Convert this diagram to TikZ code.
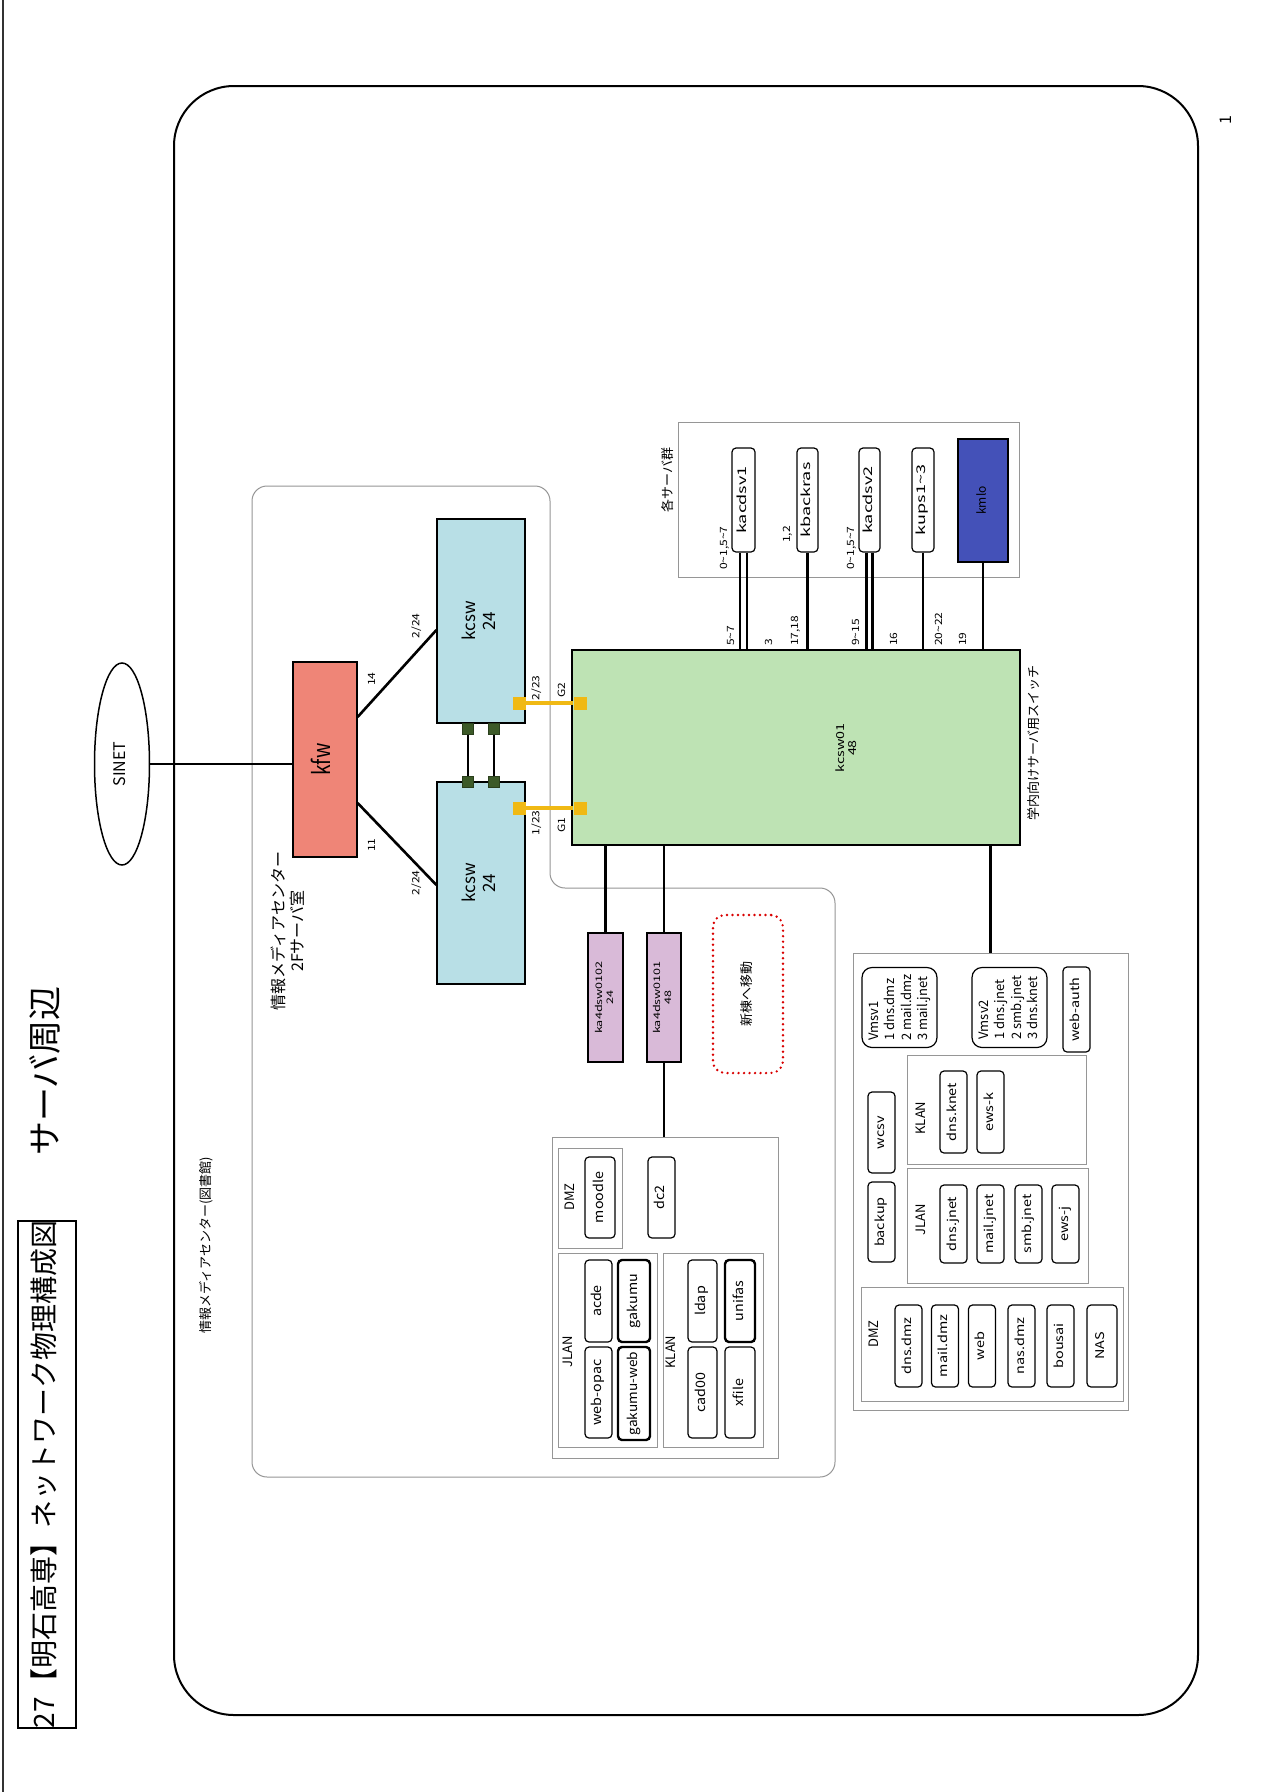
\documentclass[tikz,border=0pt]{standalone}
\usepackage{fontspec}
\setmainfont{Noto Sans CJK JP}
\usepackage{graphicx}
\usetikzlibrary{shapes.geometric,calc}
\definecolor{kfwred}{RGB}{239,133,119}
\definecolor{kcswcyan}{RGB}{184,223,230}
\definecolor{swgreen}{RGB}{190,227,180}
\definecolor{lav}{RGB}{217,186,216}
\definecolor{srvblue}{RGB}{68,81,184}
\definecolor{ygold}{RGB}{240,185,20}
\definecolor{olivesq}{RGB}{60,90,40}
\definecolor{grpgray}{RGB}{150,150,150}
\newcommand\fsz[2]{\fontsize{#1}{#2}\selectfont}
\newcommand\rt[2][1]{\rotatebox{90}{\scalebox{#1}[1]{\begin{tabular}{@{}c@{}}#2\end{tabular}}}}
\newcommand\rtl[2][1]{\rotatebox{90}{\scalebox{#1}[1]{\begin{tabular}{@{}l@{}}#2\end{tabular}}}}
\newcommand\tl{\textasciitilde}
\tikzset{
  sz/.style n args={2}{minimum width=#1, minimum height=#2},
  box/.style={draw, line width=1.2pt, inner sep=0pt},
  srv/.style={box, rounded corners=4pt, fill=white},
  thk/.style={srv, line width=2.4pt},
  grp/.style={draw=grpgray, line width=1pt, inner sep=0pt},
  link/.style={line width=2.6pt},
  port/.style={inner sep=0pt, font=\fsz{10}{11}},
  sq/.style={fill=olivesq, draw=olivesq!70!black, minimum size=11pt, inner sep=0pt},
  ysq/.style={fill=ygold, minimum size=13pt, inner sep=0pt},
  yl/.style={draw=ygold, line width=4pt},
  bx/.style={srv, font=\fsz{12}{13}},
  jx/.style={srv, font=\fsz{13}{14}},
}
\begin{document}
\begin{tikzpicture}[x=1pt,y=-1pt]
\useasboundingbox (0,0) rectangle (1278,1792);
\fill[white] (0,0) rectangle (1278,1792);
\draw[line width=1.2pt, black!80] (3,0) -- (3,1792);
% title
\node[draw, line width=1.5pt, sz={58pt}{503pt}, inner sep=0pt, font=\fsz{28}{30}] (title) at (47,1474.5) {\rt{27【明石高専】ネットワーク物理構成図}};
\node[font=\fsz{34}{36}] (sub) at (49,1071) {\rt{サーバ周辺}};
\node[font=\fsz{16}{18}] (pg) at (1228,120) {\rt{1}};
% outer frame
\draw[line width=2pt, rounded corners=60pt] (174,86) rectangle (1198,1715);
% building outline
\draw[grp, rounded corners=15pt] (252,486) -- (550,486) -- (550,888) -- (835,888) -- (835,1477) -- (252,1477) -- cycle;
\node[font=\fsz{16}{19}] (lbl2f) at (290,931) {\rt{情報メディアセンター\\2Fサーバ室}};
\node[font=\fsz{13}{15}] (lbllib) at (207,1245) {\rt{情報メディアセンター(図書館)}};
% SINET, kfw
\node[draw, ellipse, line width=1.5pt, sz={55pt}{202pt}, inner sep=0pt, font=\fsz{16}{18}] (sinet) at (122,764) {\rt{SINET}};
\node[box, fill=kfwred, sz={64pt}{195pt}, font=\fsz{24}{26}] (kfw) at (325,759.5) {\rt[0.8]{kfw}};
\draw[link] (sinet.east) -- (sinet.east -| kfw.west);
% kcsw
\node[box, fill=kcswcyan, sz={88pt}{204pt}, font=\fsz{17}{20}] (kcswA) at (481,621) {\rt{kcsw\\24}};
\node[box, fill=kcswcyan, sz={88pt}{202pt}, font=\fsz{17}{20}] (kcswB) at (481,883) {\rt{kcsw\\24}};
\draw[link] ($(kfw.east)+(0,-42.5)$) -- ($(kcswA.west)+(0,9)$);
\draw[link] ($(kfw.east)+(0,43.5)$) -- ($(kcswB.west)+(0,2)$);
\node[port] (p14) at (373,679) {\rt[1.2]{14}};
\node[port] (p11) at (373,845) {\rt[1.2]{11}};
\node[port] (p224a) at (417,626) {\rt[1.2]{2/24}};
\node[port] (p224b) at (417,883) {\rt[1.2]{2/24}};
% stack links
\node[sq] (gA1) at (468,729) {};
\node[sq] (gA2) at (494,729) {};
\node[sq] (gB1) at (468,782) {};
\node[sq] (gB2) at (494,782) {};
\draw[line width=2.6pt] (gA1) -- (gB1);
\draw[line width=2.6pt] (gA2) -- (gB2);
% kcsw01
\node[box, fill=swgreen, sz={448pt}{195pt}] (kcsw01) at (796,747.5) {};
\node[font=\fsz{11}{12}] (kcsw01t) at (848,748) {\rt[1.3]{kcsw01\\48}};
\node[font=\fsz{13}{15}] (kcsw01l) at (1035,743) {\rt{学内向けサーバ用スイッチ}};
% uplinks (yellow)
\node[ysq] (yA1) at (519,703) {};
\node[ysq] (yA2) at (580,703) {};
\node[ysq] (yB1) at (519,808) {};
\node[ysq] (yB2) at (580,808) {};
\draw[yl] (yA1) -- (yA2);
\draw[yl] (yB1) -- (yB2);
\node[port] (p223) at (537,688) {\rt[1.2]{2/23}};
\node[port] (p123) at (537,823) {\rt[1.2]{1/23}};
\node[port] (pg2) at (563,690) {\rt[1.2]{G2}};
\node[port] (pg1) at (563,825) {\rt[1.2]{G1}};
% server group
\node[grp, sz={341pt}{155pt}] (sgrp) at (848.5,499.5) {};
\node[font=\fsz{13}{15}] (sgrpl) at (669,480) {\rt{各サーバ群}};
\node[srv, sz={23pt}{104pt}, font=\fsz{12}{13}] (kacdsv1) at (743.5,500) {\rt[1.5]{kacdsv1}};
\node[srv, sz={21pt}{104pt}, font=\fsz{12}{13}] (kbackras) at (807.5,500) {\rt[1.5]{kbackras}};
\node[srv, sz={21pt}{104pt}, font=\fsz{12}{13}] (kacdsv2) at (869.5,500) {\rt[1.5]{kacdsv2}};
\node[srv, sz={22pt}{104pt}, font=\fsz{12}{13}] (kups) at (923,500) {\rt[1.5]{kups1\tl 3}};
\node[box, fill=srvblue, sz={50pt}{123pt}, font=\fsz{12}{13}] (kmlo) at (983,500.5) {\rt{kmlo}};
\draw[link] ([xshift=-3.5pt]kacdsv1.south) -- ([xshift=-3.5pt]kacdsv1.south |- kcsw01.north);
\draw[link] ([xshift=3.5pt]kacdsv1.south) -- ([xshift=3.5pt]kacdsv1.south |- kcsw01.north);
\draw[link] (kbackras.south) -- (kbackras.south |- kcsw01.north);
\draw[link] ([xshift=-3pt]kacdsv2.south) -- ([xshift=-3pt]kacdsv2.south |- kcsw01.north);
\draw[link] ([xshift=3pt]kacdsv2.south) -- ([xshift=3pt]kacdsv2.south |- kcsw01.north);
\draw[link] (kups.south) -- (kups.south |- kcsw01.north);
\draw[link] (kmlo.south) -- (kmlo.south |- kcsw01.north);
\node[port, anchor=south] (q57) at (732,646) {\rt[1.2]{5\tl 7}};
\node[port, anchor=south] (q3) at (770,646) {\rt[1.2]{3}};
\node[port, anchor=south] (q1718) at (796,646) {\rt[1.2]{17,18}};
\node[port, anchor=south] (q915) at (857,646) {\rt[1.2]{9\tl 15}};
\node[port, anchor=south] (q16) at (895,646) {\rt[1.2]{16}};
\node[port, anchor=south] (q2022) at (940,646) {\rt[1.2]{20\tl 22}};
\node[port, anchor=south] (q19) at (964,646) {\rt[1.2]{19}};
\node[port, anchor=south] (s1) at (725,570) {\rt[1.2]{0\tl 1,5\tl 7}};
\node[port, anchor=south] (s2) at (788,543) {\rt[1.2]{1,2}};
\node[port, anchor=south] (s3) at (852,570) {\rt[1.2]{0\tl 1,5\tl 7}};
% purple switches
\node[box, fill=lav, sz={35pt}{129pt}, font=\fsz{9}{11}] (ka0102) at (605.5,997.5) {\rt[1.4]{ka4dsw0102\\24}};
\node[box, fill=lav, sz={34pt}{129pt}, font=\fsz{9}{11}] (ka0101) at (664,997.5) {\rt[1.4]{ka4dsw0101\\48}};
\draw[link] (ka0102.north) -- (ka0102.north |- kcsw01.south);
\draw[link] (ka0101.north) -- (ka0101.north |- kcsw01.south);
\node[draw=red!85!black, line width=2.6pt, dash pattern=on 0pt off 5.5pt, line cap=round, rounded corners=12pt, sz={70pt}{158pt}, font=\fsz{13}{15}] (move) at (748,994) {\rt{新棟へ移動}};
% library group
\node[grp, sz={226pt}{321pt}] (jgrp) at (665,1297.5) {};
\draw[link] (ka0101.south) -- (ka0101.south |- jgrp.north);
\node[grp, sz={64pt}{100pt}] (jdmz) at (590,1198) {};
\node[grp, sz={99pt}{194pt}] (jjlan) at (607.5,1350) {};
\node[grp, sz={100pt}{194pt}] (jklan) at (713,1350) {};
\node[font=\fsz{13}{14}] (jdmzl) at (572,1197) {\rt{DMZ}};
\node[font=\fsz{13}{14}] (jjlanl) at (570,1352) {\rt{JLAN}};
\node[font=\fsz{13}{14}] (jklanl) at (673,1352) {\rt{KLAN}};
\node[jx, sz={30pt}{81pt}] (moodle) at (600,1197.5) {\rt[1.1]{moodle}};
\node[jx, sz={27pt}{81pt}] (dc2) at (661.5,1197.5) {\rt[1.1]{dc2}};
\node[jx, sz={27pt}{82pt}] (acde) at (598.5,1301) {\rt[1.1]{acde}};
\node[jx, sz={27pt}{91pt}] (webopac) at (598.5,1392.5) {\rt[1.1]{web-opac}};
\node[jx, thk, sz={32pt}{82pt}] (gakumu) at (634,1301) {\rt[1.1]{gakumu}};
\node[jx, thk, sz={32pt}{93pt}] (gakumuweb) at (634,1393.5) {\rt[1.05]{gakumu-web}};
\node[jx, sz={29pt}{82pt}] (ldap) at (702.5,1301) {\rt[1.1]{ldap}};
\node[jx, sz={29pt}{91pt}] (cad) at (702.5,1392.5) {\rt[1.1]{cad00}};
\node[jx, thk, sz={30pt}{82pt}] (unifas) at (740,1301) {\rt[1.1]{unifas}};
\node[jx, sz={30pt}{91pt}] (xfile) at (740,1392.5) {\rt[1.1]{xfile}};
% server room group
\node[grp, sz={275pt}{457pt}] (bgrp) at (990.5,1181.5) {};
\draw[link] (bgrp.north) -- (bgrp.north |- kcsw01.south);
\node[srv, rounded corners=10pt, sz={75pt}{80pt}, font=\fsz{13}{16.5}] (vmsv1) at (899.5,1007.5) {\rtl{Vmsv1\\1 dns.dmz\\2 mail.dmz\\3 mail.jnet}};
\node[srv, rounded corners=10pt, sz={75pt}{80pt}, font=\fsz{13}{16.5}] (vmsv2) at (1009.5,1007.5) {\rtl{Vmsv2\\1 dns.jnet\\2 smb.jnet\\3 dns.knet}};
\node[bx, sz={27pt}{85pt}] (webauth) at (1076.5,1009.5) {\rt[1.2]{web-auth}};
\node[bx, sz={27pt}{81pt}] (wcsv) at (881.5,1132.5) {\rt[1.2]{wcsv}};
\node[bx, sz={27pt}{80pt}] (backup) at (881.5,1222) {\rt[1.2]{backup}};
\node[grp, sz={179pt}{109pt}] (bklan) at (996.5,1109.5) {};
\node[font=\fsz{13}{14}] (bklanl) at (923,1118) {\rt{KLAN}};
\node[bx, sz={27pt}{82pt}] (dnsknet) at (953.5,1112) {\rt[1.2]{dns.knet}};
\node[bx, sz={27pt}{82pt}] (ewsk) at (990.5,1112) {\rt[1.2]{ews-k}};
\node[grp, sz={181pt}{115pt}] (bjlan) at (997.5,1225.5) {};
\node[font=\fsz{13}{14}] (bjlanl) at (923,1220) {\rt{JLAN}};
\node[bx, sz={27pt}{78pt}] (dnsjnet) at (953.5,1224) {\rt[1.2]{dns.jnet}};
\node[bx, sz={27pt}{78pt}] (mailjnet) at (990.5,1224) {\rt[1.2]{mail.jnet}};
\node[bx, sz={27pt}{78pt}] (smbjnet) at (1028.5,1224) {\rt[1.2]{smb.jnet}};
\node[bx, sz={27pt}{78pt}] (ewsj) at (1065.5,1224) {\rt[1.2]{ews-j}};
\node[grp, sz={262pt}{114pt}] (bdmz) at (992,1344) {};
\node[font=\fsz{13}{14}] (bdmzl) at (876,1334) {\rt{DMZ}};
\node[bx, sz={27pt}{82pt}] (dnsdmz) at (908.5,1346) {\rt[1.2]{dns.dmz}};
\node[bx, sz={27pt}{82pt}] (maildmz) at (945,1346) {\rt[1.2]{mail.dmz}};
\node[bx, sz={27pt}{82pt}] (web) at (982,1346) {\rt[1.2]{web}};
\node[bx, sz={27pt}{82pt}] (nasdmz) at (1021.5,1346) {\rt[1.2]{nas.dmz}};
\node[bx, sz={27pt}{82pt}] (bousai) at (1060.5,1346) {\rt[1.2]{bousai}};
\node[bx, sz={30pt}{82pt}] (nas) at (1102,1346) {\rt[1.2]{NAS}};
\end{tikzpicture}
\end{document}
